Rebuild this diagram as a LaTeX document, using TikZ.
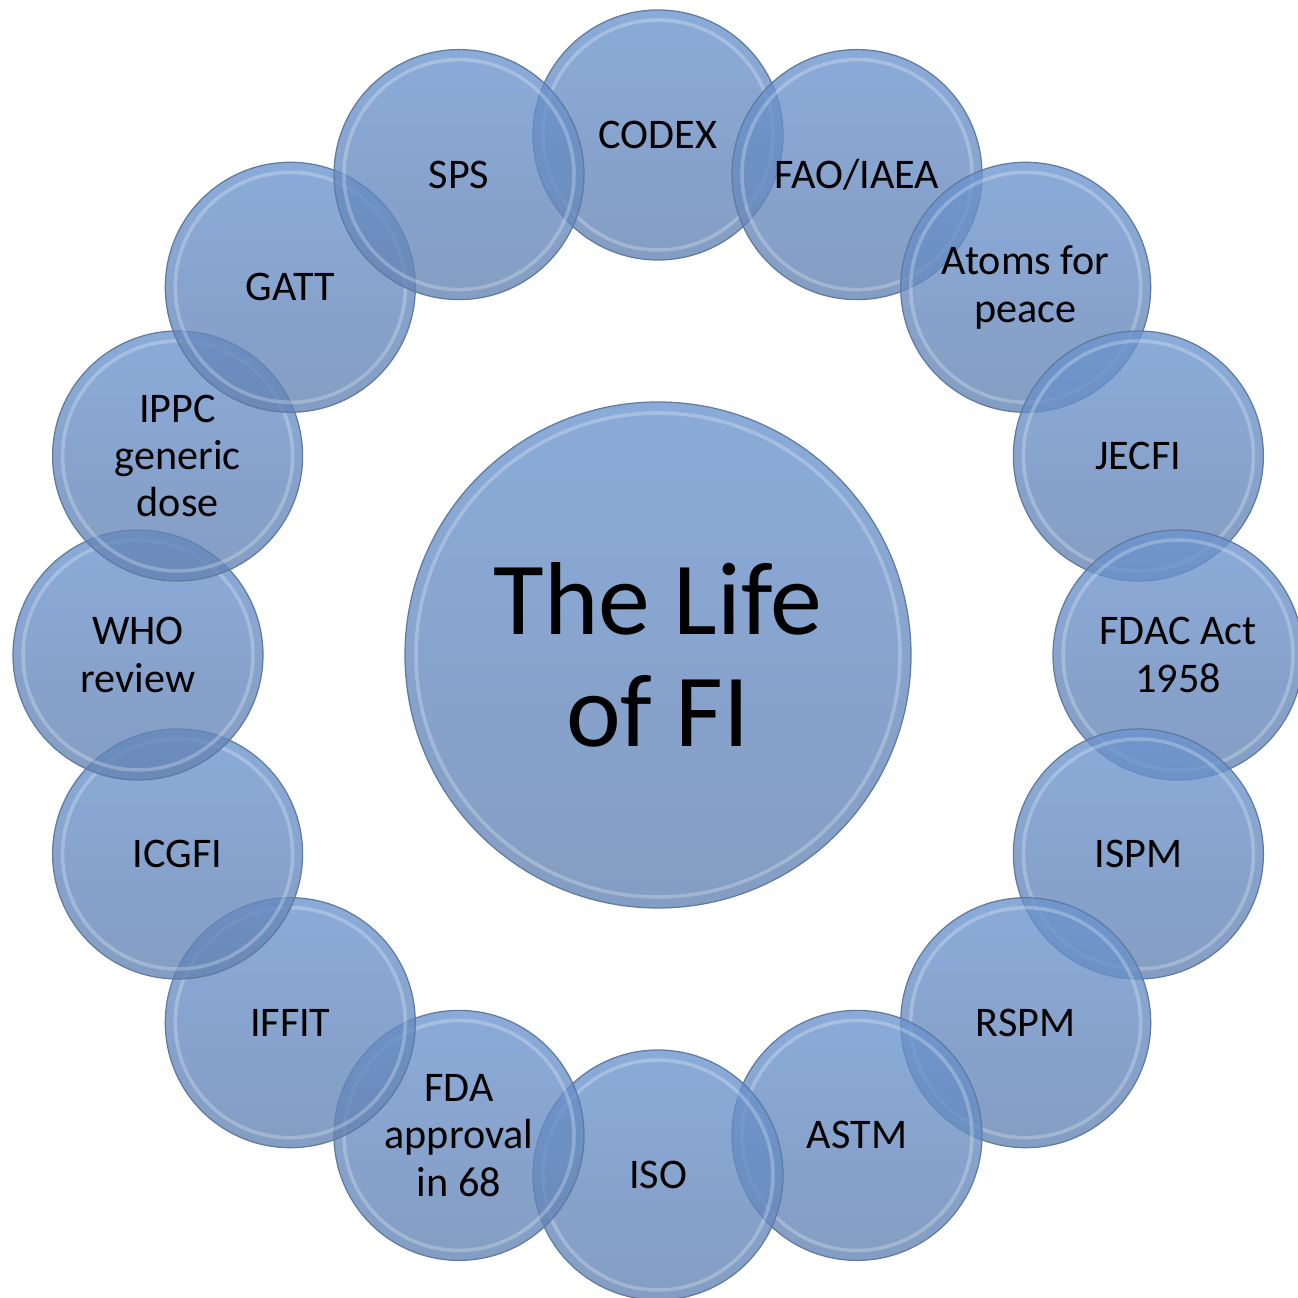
\documentclass[tikz,border=0pt]{standalone}
\usepackage{fontspec}
\setmainfont{Carlito}
\usetikzlibrary{positioning}
\definecolor{bubbletop}{RGB}{106,148,207}
\definecolor{bubblebot}{RGB}{98,130,178}
\definecolor{bubbleedge}{RGB}{96,122,160}
\begin{document}
\begin{tikzpicture}[
  font=\fontsize{24}{27}\selectfont,
  rim/.style={path picture={\draw[white,draw opacity=0.25,line width=2pt]
    (path picture bounding box.center) circle (#1);}},
  bubble/.style={circle,draw=bubbleedge,line width=0.7pt,
    top color=bubbletop,bottom color=bubblebot,fill opacity=0.78,text opacity=1,
    minimum size=5cm,inner sep=0pt,align=center,rim=2.3cm},
  hub/.style={bubble,minimum size=10.12cm,rim=4.84cm,
    font=\fontsize{59}{64}\selectfont}]
\path[use as bounding box,fill=white] (-13.16,-12.86) rectangle (12.78,13.10);
\node[hub] (life) at (0,0) {The Life\\of FI};
\node[bubble] (codex) at (90:10.4) {CODEX};
\node[bubble] (faoiaea) at (67.5:10.4) {FAO/IAEA};
\node[bubble] (atoms) at (45:10.4) {Atoms for\\peace};
\node[bubble] (jecfi) at (22.5:10.4) {JECFI};
\node[bubble] (fdac) at (0:10.4) {FDAC Act\\1958};
\node[bubble] (ispm) at (-22.5:10.4) {ISPM};
\node[bubble] (rspm) at (-45:10.4) {RSPM};
\node[bubble] (astm) at (-67.5:10.4) {ASTM};
\node[bubble] (iso) at (-90:10.4) {ISO};
\node[bubble] (fda) at (-112.5:10.4) {FDA\\approval\\in 68};
\node[bubble] (iffit) at (-135:10.4) {IFFIT};
\node[bubble] (icgfi) at (-157.5:10.4) {ICGFI};
\node[bubble] (who) at (180:10.4) {WHO\\review};
\node[bubble] (ippc) at (157.5:10.4) {IPPC\\generic\\dose};
\node[bubble] (gatt) at (135:10.4) {GATT};
\node[bubble] (sps) at (112.5:10.4) {SPS};
\end{tikzpicture}
\end{document}
